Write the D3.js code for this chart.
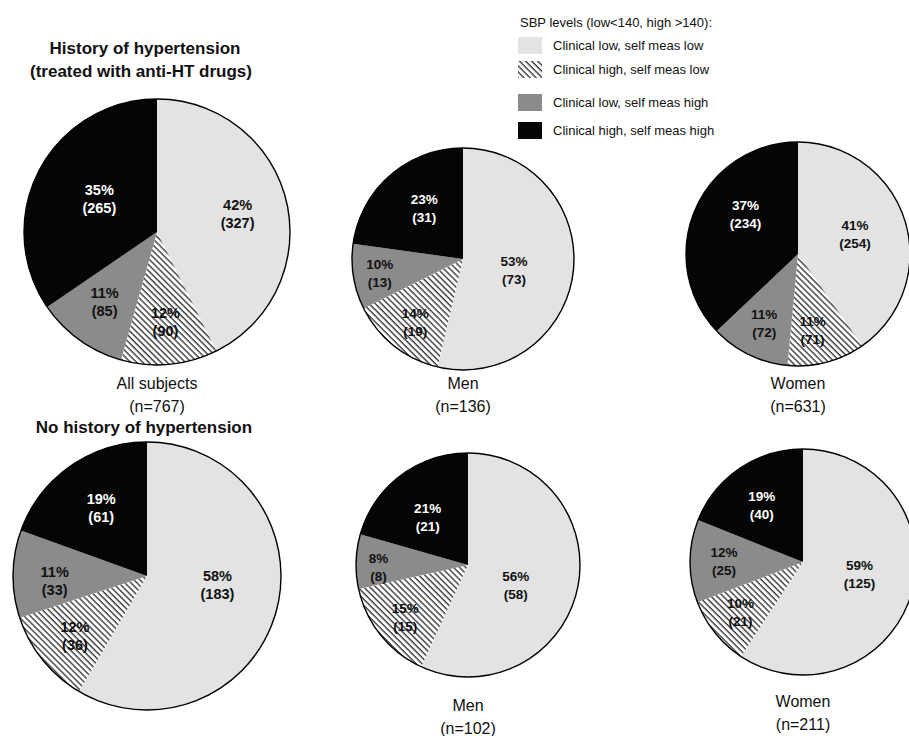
<!DOCTYPE html>
<html><head><meta charset="utf-8">
<script src="https://cdn.jsdelivr.net/npm/d3@7"></script>
<style>
body{margin:0;background:#fff}
svg{display:block}
text{font-family:"Liberation Sans",Arial,Helvetica,sans-serif}
</style>
</head><body>
<svg id="chart" width="909" height="736"></svg>
<script>
// ---------- data ----------
const categories = [
  "Clinical low, self meas low",
  "Clinical high, self meas low",
  "Clinical low, self meas high",
  "Clinical high, self meas high"
];
const legendTitle = "SBP levels (low<140, high >140):";
const sectionTitles = ["History of hypertension", "(treated with anti-HT drugs)", "No history of hypertension"];

const treatedAllCounts = [327, 90, 85, 265];
const treatedAllPct    = [42, 12, 11, 35];
const treatedMenCounts = [73, 19, 13, 31];
const treatedMenPct    = [53, 14, 10, 23];
const treatedWomenCounts = [254, 71, 72, 234];
const treatedWomenPct    = [41, 11, 11, 37];

const untreatedAllCounts = [183, 36, 33, 61];
const untreatedAllPct    = [58, 12, 11, 19];
const untreatedMenCounts = [58, 15, 8, 21];
const untreatedMenPct    = [56, 15, 8, 21];
const untreatedWomenCounts = [125, 21, 25, 40];
const untreatedWomenPct    = [59, 10, 12, 19];

const captionNames = ["All subjects", "Men", "Women", null, "Men", "Women"];
const captionN     = ["(n=767)", "(n=136)", "(n=631)", null, "(n=102)", "(n=211)"];

// ---------- layout (positions/styles only) ----------
// lr: label radius fraction per slice, da: label angle nudge (degrees)
const layout = [
  {cx:157, cy:232, r:133, fs:14.5, capY:389, lr:[0.62,0.68,0.66,0.50], da:[1,0,1,2]},
  {cx:463, cy:259, r:111, fs:13.5, capY:389, lr:[0.47,0.71,0.76,0.58], da:[5,-1,0,4]},
  {cx:798, cy:254, r:112, fs:13.5, capY:389, lr:[0.54,0.69,0.69,0.59], da:[-2,4,0,14]},
  {cx:147, cy:576, r:134, fs:14.5, capY:null, lr:[0.53,0.70,0.69,0.61], da:[-8,-1,-4,1]},
  {cx:468, cy:565, r:112, fs:13.5, capY:711, lr:[0.46,0.73,0.80,0.56], da:[10,-1,-3,-3]},
  {cx:803, cy:562, r:113, fs:13.5, capY:707, lr:[0.51,0.71,0.70,0.62], da:[-5,0,0,-2]}
];
const panelCounts = [treatedAllCounts, treatedMenCounts, treatedWomenCounts,
                     untreatedAllCounts, untreatedMenCounts, untreatedWomenCounts];
const panelPct = [treatedAllPct, treatedMenPct, treatedWomenPct,
                  untreatedAllPct, untreatedMenPct, untreatedWomenPct];

const svg = d3.select("#chart");
const defs = svg.append("defs");
const hs = 4.3;
const hatch = defs.append("pattern")
  .attr("id", "hatch").attr("patternUnits", "userSpaceOnUse")
  .attr("width", hs).attr("height", hs)
  .attr("patternTransform", "rotate(-45)");
hatch.append("rect").attr("width", hs).attr("height", hs).attr("fill", "#fff");
hatch.append("line").attr("x1", 1).attr("y1", 0).attr("x2", 1).attr("y2", hs)
  .attr("stroke", "#2a2a2a").attr("stroke-width", 1.3);

const fill = d3.scaleOrdinal().domain(categories)
  .range(["#e3e3e3", "url(#hatch)", "#8b8b8b", "#050505"]);
const textFill = d3.scaleOrdinal().domain(categories)
  .range(["#111", "#111", "#111", "#fff"]);

const pie = d3.pie().sort(null).value(d => d.v).startAngle(0).endAngle(2 * Math.PI);

layout.forEach((L, i) => {
  const rows = categories.map((c, k) => ({c, k, v: panelCounts[i][k], p: panelPct[i][k]}));
  const arcs = pie(rows);
  const arc = d3.arc().innerRadius(0).outerRadius(L.r);
  const g = svg.append("g").attr("transform", `translate(${L.cx},${L.cy})`);
  g.selectAll("path.slice").data(arcs).join("path")
    .attr("class", "slice")
    .attr("d", arc)
    .attr("fill", d => fill(d.data.c));
  g.append("circle").attr("r", L.r).attr("fill", "none")
    .attr("stroke", "#000").attr("stroke-width", 1.4);
  const lab = g.selectAll("g.lab").data(arcs).join("g").attr("class", "lab")
    .attr("transform", d => {
      const a = (d.startAngle + d.endAngle) / 2 + L.da[d.data.k] * Math.PI / 180;
      const rr = L.r * L.lr[d.data.k];
      return `translate(${Math.sin(a) * rr},${-Math.cos(a) * rr})`;
    });
  lab.append("text").attr("text-anchor", "middle").attr("y", -4)
    .attr("font-size", L.fs).attr("font-weight", "bold")
    .attr("fill", d => textFill(d.data.c))
    .text(d => d.data.p + "%");
  lab.append("text").attr("text-anchor", "middle").attr("y", 14)
    .attr("font-size", L.fs).attr("font-weight", "bold")
    .attr("fill", d => textFill(d.data.c))
    .text(d => "(" + d.data.v + ")");
  if (captionNames[i]) {
    svg.append("text").attr("x", L.cx).attr("y", L.capY)
      .attr("text-anchor", "middle").attr("font-size", 16).attr("fill", "#111")
      .text(captionNames[i]);
    svg.append("text").attr("x", L.cx).attr("y", L.capY + 23)
      .attr("text-anchor", "middle").attr("font-size", 16).attr("fill", "#111")
      .text(captionN[i]);
  }
});

// section titles
svg.append("text").attr("x", 145).attr("y", 54).attr("text-anchor", "middle")
  .attr("font-size", 17).attr("font-weight", "bold").attr("fill", "#111").text(sectionTitles[0]);
svg.append("text").attr("x", 141).attr("y", 77).attr("text-anchor", "middle")
  .attr("font-size", 17).attr("font-weight", "bold").attr("fill", "#111").text(sectionTitles[1]);
svg.append("text").attr("x", 144).attr("y", 433).attr("text-anchor", "middle")
  .attr("font-size", 17).attr("font-weight", "bold").attr("fill", "#111").text(sectionTitles[2]);

// legend
const leg = svg.append("g");
leg.append("text").attr("x", 520).attr("y", 27).attr("font-size", 13).attr("fill", "#111").text(legendTitle);
const legY = d3.scaleOrdinal().domain(categories).range([37, 61, 94, 122]);
const li = leg.selectAll("g.li").data(categories).join("g").attr("class", "li")
  .attr("transform", d => `translate(518,${legY(d)})`);
li.append("rect").attr("width", 24).attr("height", 17).attr("fill", d => fill(d));
li.append("text").attr("x", 35).attr("y", 13).attr("font-size", 13).attr("fill", "#111").text(d => d);
</script>
</body></html>
